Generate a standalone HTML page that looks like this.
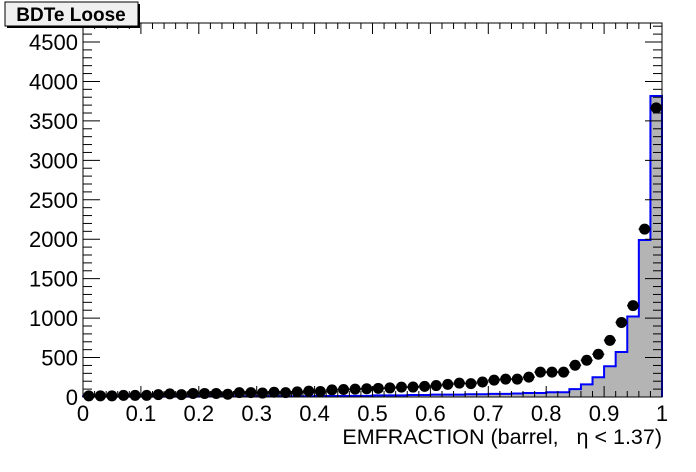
<!DOCTYPE html>
<html><head><meta charset="utf-8"><style>
html,body{margin:0;padding:0;background:#fff;}
svg{display:block;font-family:"Liberation Sans",Arial,sans-serif;}
</style></head><body>
<svg id="s" width="696" height="472" xmlns="http://www.w3.org/2000/svg"></svg>
<script>
const L=83,R=662,T=23,B=397,K=355/4500;
const X=v=>L+(R-L)*v, Y=v=>B-v*K;
let h='';
const hist=[5,5,5,5,5,5,5,5,5,5,8,8,8,8,8,10,10,10,10,10,12,12,12,15,15,20,20,20,25,25,30,30,30,35,35,40,40,45,50,50,60,60,100,160,250,390,570,1020,1990,3815];
const dots=[10,15,15,15,15,20,20,20,30,40,30,45,45,45,35,55,55,50,60,55,65,75,70,90,95,100,105,110,115,125,126,135,145,160,176,170,190,214,227,227,252,315,315,315,403,466,542,718,945,1159,2128,3665];
dots.splice(0,2);
let p=`M${X(0)},${B}`;
for(let i=0;i<50;i++){p+=` L${X(i*0.02)},${Y(hist[i])} L${X((i+1)*0.02)},${Y(hist[i])}`;}
p+=` L${X(1)},${B} Z`;
h+=`<path d="${p}" fill="#b4b4b4" stroke="none"/>`;
let q=`M${X(0)},${B}`;
for(let i=0;i<50;i++){q+=` L${X(i*0.02)},${Y(hist[i])} L${X((i+1)*0.02)},${Y(hist[i])}`;}
q+=` L${X(1)},${B}`;
h+=`<path d="${q}" fill="none" stroke="#0000ff" stroke-width="2"/>`;
h+=`<rect x="${L}" y="${T}" width="${R-L}" height="${B-T}" fill="none" stroke="#000" stroke-width="1"/>`;
for(let v=0;v<=4700;v+=100){const y=Y(v);const big=v%500==0;const w=big?17:9;
h+=`<line x1="${L}" y1="${y}" x2="${L+w}" y2="${y}" stroke="#000"/><line x1="${R}" y1="${y}" x2="${R-w}" y2="${y}" stroke="#000"/>`;
if(big)h+=`<text x="${L-5}" y="${y+8}" font-size="22" text-anchor="end">${v}</text>`;}
for(let i=0;i<=50;i++){const x=X(i*0.02);const big=i%5==0;const w=big?11:6;
h+=`<line x1="${x}" y1="${B}" x2="${x}" y2="${B-w}" stroke="#000"/><line x1="${x}" y1="${T}" x2="${x}" y2="${T+w}" stroke="#000"/>`;
if(big){const lab=i==0?'0':i==50?'1':(i/50).toFixed(1);h+=`<text x="${x}" y="${B+24}" font-size="22" text-anchor="middle">${lab}</text>`;}}
for(let i=0;i<50;i++){const x=X((i+0.5)*0.02),y=Y(dots[i]);
h+=`<line x1="${x-6}" y1="${y}" x2="${x+6}" y2="${y}" stroke="#000" stroke-width="1.5"/><circle cx="${x}" cy="${y}" r="5.5" fill="#000"/>`;}
h+=`<text x="${R}" y="444" font-size="21.5" text-anchor="end" xml:space="preserve">EMFRACTION (barrel,   η &lt; 1.37)</text>`;
h+=`<rect x="7" y="4" width="133" height="24" fill="#000"/><rect x="5" y="2" width="133" height="24" fill="#f0f0f0" stroke="#000" stroke-width="1"/>`;
h+=`<text x="71" y="21" font-size="19" font-weight="bold" text-anchor="middle">BDTe Loose</text>`;
document.getElementById('s').innerHTML=h;
</script>
</body></html>
